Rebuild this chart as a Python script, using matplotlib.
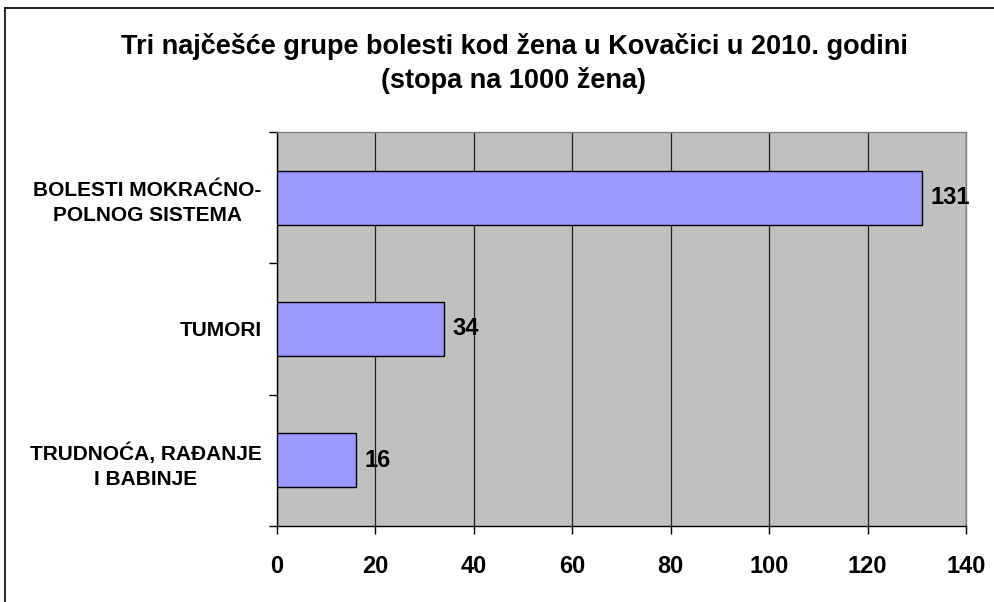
import matplotlib
matplotlib.use("Agg")
import matplotlib.pyplot as plt
from matplotlib.lines import Line2D
import numpy as np

plt.rcParams['font.family'] = ['Liberation Sans', 'DejaVu Sans']

categories = ["BOLESTI MOKRAĆNO-\nPOLNOG SISTEMA", "TUMORI", "TRUDNOĆA, RAĐANJE\nI BABINJE"]
values = [131, 34, 16]
xticks = [0, 20, 40, 60, 80, 100, 120, 140]
title = "Tri najčešće grupe bolesti kod žena u Kovačici u 2010. godini\n(stopa na 1000 žena)"

fig = plt.figure(figsize=(9.95, 6.02), dpi=100)
ax = fig.add_axes([277/995, 1-526/602, (966-277)/995, (526-132)/602])
ax.set_facecolor('#C0C0C0')

y = np.arange(len(categories))
bars = ax.barh(y, values, height=0.41, color='#9999FF', edgecolor='black', linewidth=1, zorder=3)
ax.set_ylim(len(categories)-0.5, -0.5)
ax.set_xlim(0, 140)
ax.set_xticks(xticks)
ax.set_xticklabels([str(t) for t in xticks], fontsize=17, fontweight='bold')
ax.xaxis.grid(True, color='#202020', linewidth=0.9, zorder=1)
ax.set_axisbelow(True)

ax.set_yticks(y)
ax.set_yticklabels(categories, fontsize=15, fontweight='bold', multialignment='center',
                   linespacing=1.45)
ax.tick_params(axis='y', length=0, pad=11)
ax.set_yticks(np.arange(-0.5, len(categories), 1.0), minor=True)
ax.tick_params(axis='y', which='minor', length=6, width=1, color='black', direction='out')
ax.tick_params(axis='x', length=6, width=1, color='black', direction='out', pad=15)

for s in ['left', 'bottom']:
    ax.spines[s].set_color('black')
    ax.spines[s].set_linewidth(1)
for s in ['right', 'top']:
    ax.spines[s].set_color('#808080')
    ax.spines[s].set_linewidth(1)

ax.bar_label(bars, labels=[str(v) for v in values], padding=6, fontsize=17, fontweight='bold')

fig.text(514/995, 1-63.5/602, title, ha='center', va='center', fontsize=19.5,
         fontweight='bold', linespacing=1.35)

# figure border (left and top visible)
fig.add_artist(Line2D([5/995, 5/995], [0, 1-8/602], transform=fig.transFigure, color='black', lw=1.2))
fig.add_artist(Line2D([5/995, 1], [1-8/602, 1-8/602], transform=fig.transFigure, color='black', lw=1.2))

fig.savefig('out.png', dpi=100)
